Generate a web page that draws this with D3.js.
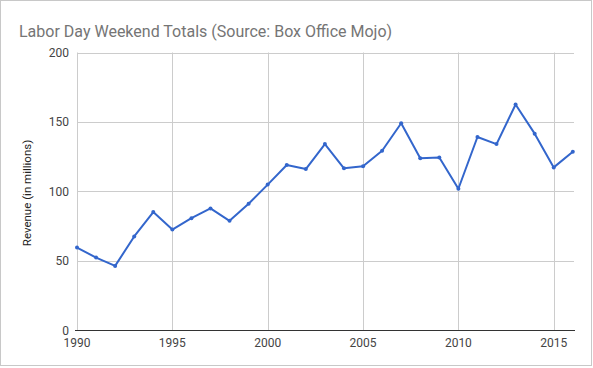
<!DOCTYPE html>
<html>
<head>
<meta charset="utf-8">
<script src="https://cdn.jsdelivr.net/npm/d3@7"></script>
<style>
  html, body { margin: 0; padding: 0; background: #fff; }
  svg { display: block; }
  text { font-family: Roboto, "Noto Sans", Arial, sans-serif; }
</style>
</head>
<body>
<svg id="chart" width="593" height="368"></svg>
<script>
const titleText = "Labor Day Weekend Totals (Source: Box Office Mojo)";
const yAxisTitle = "Revenue (in millions)";
const years = [1990,1991,1992,1993,1994,1995,1996,1997,1998,1999,2000,2001,2002,2003,2004,2005,2006,2007,2008,2009,2010,2011,2012,2013,2014,2015,2016];
const revenue = [59.4,52.2,46.2,67.4,85,72.4,80.6,87.6,78.7,91,104.8,118.9,116,134,116.5,118,129.2,149,123.8,124.4,101.8,139.1,134,162.5,141.5,117.2,128.5];
const xTicks = [1990,1995,2000,2005,2010,2015];
const yTicks = [0,50,100,150,200];

const svg = d3.select("#chart");
const W = 593, H = 368;

// outer frame
svg.append("rect").attr("x",0.5).attr("y",0.5).attr("width",W-2).attr("height",H-3)
  .attr("fill","#fff").attr("stroke","#c8c8c8").attr("stroke-width",1);

const x = d3.scaleLinear().domain([1990,2016]).range([77,572.8]);
const y = d3.scaleLinear().domain([0,200]).range([330,52.5]);

// title
svg.append("text").attr("x",19).attr("y",37).attr("font-size",16).attr("fill","#757575")
  .text(titleText);

// horizontal gridlines
svg.append("g").selectAll("line").data(yTicks.filter(d=>d!==0)).join("line")
  .attr("x1",77).attr("x2",574).attr("y1",d=>Math.round(y(d))+0.5).attr("y2",d=>Math.round(y(d))+0.5)
  .attr("stroke","#cccccc").attr("stroke-width",1);

// vertical gridlines
svg.append("g").selectAll("line").data(xTicks).join("line")
  .attr("y1",52.5).attr("y2",330).attr("x1",d=>Math.round(x(d))+0.5).attr("x2",d=>Math.round(x(d))+0.5)
  .attr("stroke","#cccccc").attr("stroke-width",1);

// baseline
svg.append("line").attr("x1",75).attr("x2",575).attr("y1",330.5).attr("y2",330.5)
  .attr("stroke","#333").attr("stroke-width",1);

// y tick labels
svg.append("g").selectAll("text").data(yTicks).join("text")
  .attr("x",69).attr("y",d=>y(d)+4.5).attr("text-anchor","end")
  .attr("font-size",12).attr("fill","#444").text(d=>d);

// x tick labels
svg.append("g").selectAll("text").data(xTicks).join("text")
  .attr("x",d=>x(d)).attr("y",347).attr("text-anchor","middle")
  .attr("font-size",12).attr("fill","#444").text(d=>d);

// y axis title
svg.append("text").attr("transform","translate(30.5,193) rotate(-90)")
  .attr("text-anchor","middle").attr("font-size",11.5).attr("fill","#222").text(yAxisTitle);

// line
const data = years.map((yr,i)=>({yr, v: revenue[i]}));
svg.append("path").datum(data)
  .attr("fill","none").attr("stroke","#3366cc").attr("stroke-width",2)
  .attr("stroke-linejoin","round")
  .attr("d", d3.line().x(d=>x(d.yr)).y(d=>y(d.v)));

svg.append("g").selectAll("circle").data(data).join("circle")
  .attr("cx",d=>x(d.yr)).attr("cy",d=>y(d.v)).attr("r",2)
  .attr("fill","#3366cc");
</script>
</body>
</html>
